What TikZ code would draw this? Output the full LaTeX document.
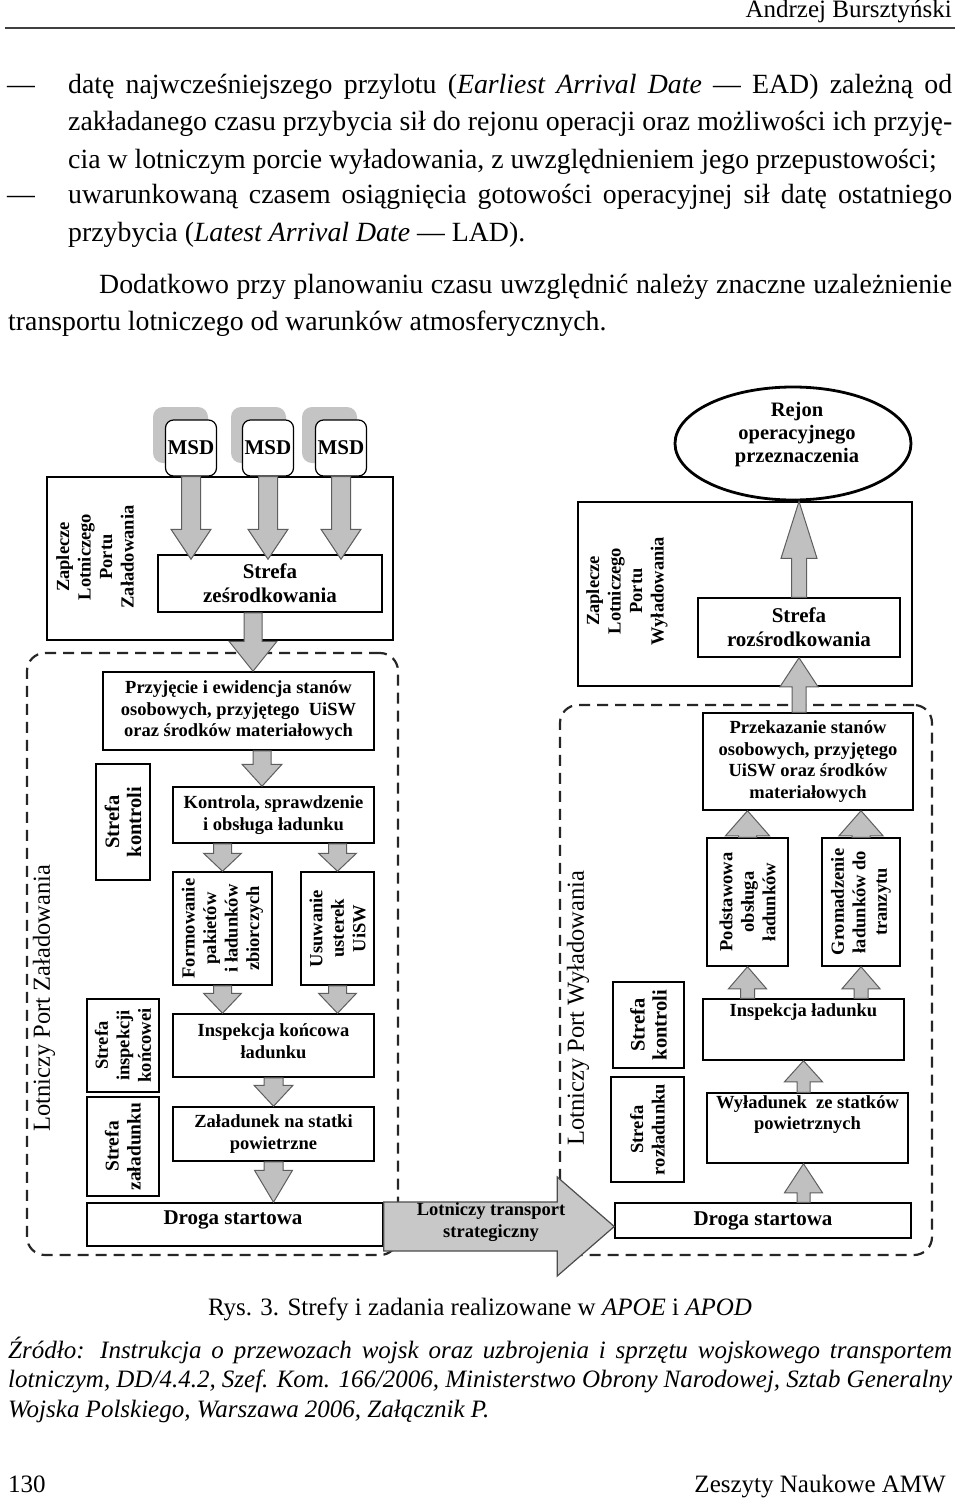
\documentclass[tikz,border=0pt]{standalone}
\usepackage{fontspec}
\setmainfont{Liberation Serif}
\usetikzlibrary{shapes.geometric,calc}
\definecolor{agray}{HTML}{C0C0C0}
\definecolor{aedge}{HTML}{5E5E5E}
\definecolor{sgray}{HTML}{C4C4C4}
\definecolor{bgray}{HTML}{C8C8C8}
\definecolor{rulec}{HTML}{404040}
\newcommand\dfont{\bfseries\fontsize{18.5}{21.5}\selectfont}
\newcommand\Dfont{\bfseries\fontsize{21}{24}\selectfont}
\newcommand\zfont{\bfseries\fontsize{20.5}{22}\selectfont}
\newcommand\lfont{\fontsize{24.5}{28}\selectfont}
\newcommand\tfont{\fontsize{27.8}{37}\selectfont}
\newcommand\cfont{\fontsize{25}{29}\selectfont}
\newcommand\sfont{\itshape\fontsize{25}{29}\selectfont}
% vertical block arrow: #1 shaft half width, #2 head half width, #3 head length, #4 from, #5 to
\newcommand{\varrow}[5]{%
  \draw[garrow] let \p1=#4, \p2=#5, \n1={ifthenelse(\y2<\y1,1,-1)} in
    ({\x1-#1pt},\y1) -- ({\x1-#1pt},{\y2+\n1*#3pt}) -- ({\x1-#2pt},{\y2+\n1*#3pt})
    -- (\x1,\y2) -- ({\x1+#2pt},{\y2+\n1*#3pt}) -- ({\x1+#1pt},{\y2+\n1*#3pt})
    -- ({\x1+#1pt},\y1) -- cycle;}
% horizontal big arrow from #1 to #2
\newcommand{\harrow}[2]{%
  \draw[bigarrow] let \p1=#1, \p2=#2 in
    (\x1,{\y1+24.5pt}) -- ({\x2-57pt},{\y1+24.5pt}) -- ({\x2-57pt},{\y1+49.5pt})
    -- (\x2,\y1) -- ({\x2-57pt},{\y1-49.5pt}) -- ({\x2-57pt},{\y1-24.5pt})
    -- (\x1,{\y1-24.5pt}) -- cycle;}
\tikzset{
  box/.style={draw, line width=1.5pt, fill=white, inner sep=0pt, align=center, font=\dfont},
  vbox/.style={box, rotate=90},
  txt/.style={inner sep=0pt, align=center, font=\dfont},
  msdbox/.style={draw, line width=1.2pt, fill=white, rounded corners=8pt, inner sep=0pt,
    minimum width=51pt, minimum height=56pt, font=\Dfont},
  shadowbox/.style={fill=sgray, rounded corners=10pt, inner sep=0pt,
    minimum width=55pt, minimum height=56pt},
  region/.style={draw=black!85, line width=2.2pt, dash pattern=on 11pt off 7pt,
    rounded corners=18pt, inner sep=0pt},
  garrow/.style={fill=agray, draw=aedge, line width=1pt, line join=miter},
  bigarrow/.style={fill=bgray, draw=black!70, line width=1.2pt},
  ptext/.style={inner sep=0pt, anchor=base west, font=\tfont},
  ctext/.style={inner sep=0pt, font=\cfont},
  sidelabel/.style={inner sep=0pt, rotate=90, font=\lfont}
}
\begin{document}
\begin{tikzpicture}[x=1pt,y=-1pt]
\fill[white] (0,0) rectangle (960,1498);
\useasboundingbox (0,0) rectangle (960,1498);

% ---------- page text ----------
\node[ctext, anchor=base east] (hdr) at (952,18) {Andrzej Bursztyński};
\draw[rulec, line width=2pt] (5,28) -- (955,28);

\node[ptext] (d1) at (7,94) {—};
\node[ptext] (l1) at (68,94) {\makebox[884pt][s]{datę najwcześniejszego przylotu (\textit{Earliest Arrival Date} — EAD) zależną od}};
\node[ptext] (l2) at (68,131) {\makebox[884pt][s]{zakładanego czasu przybycia sił do rejonu operacji oraz możliwości ich przyję-}};
\node[ptext] (l3) at (68,168) {cia w lotniczym porcie wyładowania, z uwzględnieniem jego przepustowości;};
\node[ptext] (d2) at (7,204) {—};
\node[ptext] (l4) at (68,204) {\makebox[884pt][s]{uwarunkowaną czasem osiągnięcia gotowości operacyjnej sił datę ostatniego}};
\node[ptext] (l5) at (68,241) {przybycia (\textit{Latest Arrival Date} — LAD).};
\node[ptext] (l6) at (99,293) {\makebox[853pt][s]{Dodatkowo przy planowaniu czasu uwzględnić należy znaczne uzależnienie}};
\node[ptext] (l7) at (8,330) {transportu lotniczego od warunków atmosferycznych.};

\node[ctext, anchor=base] (cap) at (480,1315) {Rys. 3. Strefy i zadania realizowane w \textit{APOE} i \textit{APOD}};
\node[inner sep=0pt, anchor=base west, font=\sfont] (s1) at (8,1358) {\makebox[944pt][s]{Źródło: Instrukcja o przewozach wojsk oraz uzbrojenia i sprzętu wojskowego transportem}};
\node[inner sep=0pt, anchor=base west, font=\sfont] (s2) at (8,1387) {\makebox[944pt][s]{lotniczym, DD/4.4.2, Szef. Kom. 166/2006, Ministerstwo Obrony Narodowej, Sztab Generalny}};
\node[inner sep=0pt, anchor=base west, font=\sfont] (s3) at (8,1417) {Wojska Polskiego, Warszawa 2006, Załącznik P.};
\node[ctext, anchor=base west] (pg) at (8,1492) {130};
\node[ctext, anchor=base east] (jr) at (946,1492) {Zeszyty Naukowe AMW};

% ---------- dashed regions ----------
\node[region, minimum width=371pt, minimum height=602pt] (regL) at (212.5,954) {};
\node[region, minimum width=372pt, minimum height=550pt] (regR) at (746,980) {};
\node[sidelabel] (labL) at (44,998) {Lotniczy Port Załadowania};
\node[sidelabel] (labR) at (578,1008) {Lotniczy Port Wyładowania};

% ---------- left: loading port ----------
\node[box, minimum width=346pt, minimum height=163pt] (zapL) at (220,558.5) {};
\node[txt, rotate=90] (zapLt) at (95,557) {Zaplecze\\Lotniczego\\Portu\\Załadowania};
\node[shadowbox] (sh1) at (180.5,435) {};
\node[shadowbox] (sh2) at (258.5,435) {};
\node[shadowbox] (sh3) at (329.5,435) {};
\node[msdbox] (msd1) at (191,448) {MSD};
\node[msdbox] (msd2) at (268,448) {MSD};
\node[msdbox] (msd3) at (341,448) {MSD};
\node[box, font=\Dfont, minimum width=224pt, minimum height=57pt] (zes) at (270,583.5) {Strefa\\ześrodkowania};

\node[box, minimum width=271pt, minimum height=78pt] (przy) at (238.5,711) {Przyjęcie i ewidencja stanów\\osobowych, przyjętego\ \ UiSW\\oraz środków materiałowych};
\node[vbox, font=\zfont, minimum width=116pt, minimum height=54pt] (skonL) at (123,822) {Strefa\\kontroli};
\node[box, minimum width=201pt, minimum height=56pt] (kon) at (273.5,815) {Kontrola, sprawdzenie\\i obsługa ładunku};
\node[vbox, minimum width=113pt, minimum height=99pt] (form) at (222.5,928.5) {Formowanie\\pakietów\\i ładunków\\zbiorczych};
\node[vbox, minimum width=113pt, minimum height=73pt] (usu) at (337.5,928.5) {Usuwanie\\usterek\\UiSW};
\node[box, minimum width=201pt, minimum height=63pt] (inspK) at (273.5,1045.5) {};
\node[txt] (inspKt) at (273.5,1041) {Inspekcja końcowa\\ładunku};
\node[vbox, minimum width=93pt, minimum height=72pt] (sinsp) at (123,1045.5) {Strefa\\inspekcji\\końcowei};
\node[vbox, font=\bfseries\fontsize{19.5}{22}\selectfont, minimum width=99pt, minimum height=72pt] (szal) at (123,1146.5) {Strefa\\załadunku};
\node[box, minimum width=201pt, minimum height=54pt] (zal) at (273.5,1134) {Załadunek na statki\\powietrzne};
\node[box, minimum width=296pt, minimum height=43pt] (drogaL) at (235,1224.5) {};
\node[txt, font=\Dfont] (drogaLt) at (233,1220) {Droga startowa};

% ---------- right: unloading port ----------
\node[draw, ellipse, line width=2.8pt, fill=white, inner sep=0pt, minimum width=236pt, minimum height=113pt] (rejon) at (793,443.5) {};
\node[txt, font=\bfseries\fontsize{20.5}{23}\selectfont] (rejont) at (797,435) {Rejon\\operacyjnego\\przeznaczenia};
\node[box, minimum width=334pt, minimum height=184pt] (zapR) at (745,594) {};
\node[txt, rotate=90] (zapRt) at (627,591) {Zaplecze\\Lotniczego\\Portu\\Wyładowania};
\node[box, font=\Dfont, minimum width=202pt, minimum height=59pt] (roz) at (799,627.5) {Strefa\\rozśrodkowania};
\node[box, minimum width=210pt, minimum height=97pt] (przek) at (808,761.5) {Przekazanie stanów\\osobowych, przyjętego\\UiSW oraz środków\\materiałowych};
\node[vbox, minimum width=128pt, minimum height=81pt] (podst) at (747.5,902) {Podstawowa\\obsługa\\ładunków};
\node[vbox, minimum width=128pt, minimum height=78pt] (grom) at (861,902) {Gromadzenie\\ładunków do\\tranzytu};
\node[box, minimum width=201pt, minimum height=61pt] (inspL) at (803.5,1029.5) {};
\node[txt, anchor=north] (inspLt) at (803.5,1003) {Inspekcja ładunku};
\node[box, minimum width=201pt, minimum height=70pt] (wyl) at (807.5,1128) {};
\node[txt, anchor=north] (wylt) at (807.5,1095) {Wyładunek\ \ ze statków\\powietrznych};
\node[box, font=\Dfont, minimum width=296pt, minimum height=35pt] (drogaR) at (763,1220.5) {Droga startowa};
\node[vbox, font=\zfont, minimum width=86pt, minimum height=71pt] (skonR) at (648.5,1025) {Strefa\\kontroli};
\node[vbox, minimum width=105pt, minimum height=73pt] (sroz) at (647.5,1129.5) {Strefa\\rozładunku};

% ---------- block arrows, left ----------
\foreach \m in {msd1,msd2,msd3} {
  \coordinate (\m t) at ($(\m.south |- zes.north)+(0,5)$);
  \varrow{9.5}{20}{30}{(\m.south)}{(\m t)}
}
\coordinate (a2) at ([xshift=-17pt]zes.south);
\varrow{9}{24}{30}{(a2)}{(a2 |- przy.north)}
\coordinate (a3) at ([xshift=-11.5pt]kon.north);
\varrow{9}{20}{22}{(a3 |- przy.south)}{(a3)}
% rotated boxes: east = top, west = bottom
\varrow{9}{19}{18}{(form.east |- kon.south)}{(form.east)}
\varrow{9}{19}{18}{(usu.east |- kon.south)}{(usu.east)}
\varrow{9}{19}{20}{(form.west)}{(form.west |- inspK.north)}
\varrow{9}{19}{20}{(usu.west)}{(usu.west |- inspK.north)}
\varrow{9.5}{19.5}{21}{(inspK.south)}{(inspK.south |- zal.north)}
\varrow{9.5}{19}{32}{(zal.south)}{(zal.south |- drogaL.north)}

% ---------- block arrows, right ----------
\varrow{7.5}{18}{57}{(roz.north)}{(roz.north |- rejon.south)}
\varrow{7}{19}{29}{(roz.south |- przek.north)}{(roz.south)}
\varrow{9}{22}{25}{(podst.east)}{(podst.east |- przek.south)}
\varrow{9}{22}{25}{(grom.east)}{(grom.east |- przek.south)}
\varrow{7}{19}{22}{(podst.west |- inspL.north)}{(podst.west)}
\varrow{7}{19}{22}{(grom.west |- inspL.north)}{(grom.west)}
\varrow{6.5}{19}{21}{(inspL.south |- wyl.north)}{(inspL.south)}
\coordinate (b8) at (inspL.south |- wyl.south);
\varrow{6.5}{19}{29}{(b8 |- drogaR.north)}{(b8)}

% ---------- strategic transport arrow ----------
\harrow{([yshift=-2pt]drogaL.east)}{([yshift=-2pt]drogaL.east -| drogaR.west)}
\node[txt] (strat) at (491,1222) {Lotniczy transport\\strategiczny};
\end{tikzpicture}
\end{document}
